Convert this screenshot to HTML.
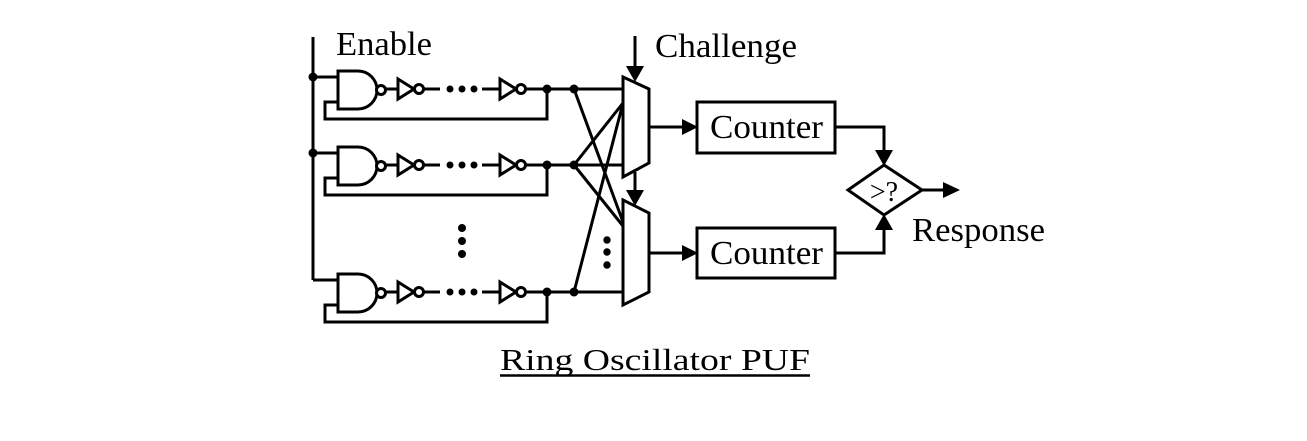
<!DOCTYPE html>
<html><head><meta charset="utf-8"><style>
html,body{margin:0;padding:0;background:#fff;}
svg{display:block;}
text{font-family:"Liberation Serif",serif;fill:#000;}
</style></head><body>
<svg width="1307" height="441" viewBox="0 0 1307 441" xmlns="http://www.w3.org/2000/svg">
<defs>
<g id="row" stroke="#000" stroke-width="3" fill="none">
  <line x1="313" y1="77" x2="338" y2="77"/>
  <path d="M338,71 H358 A19,19 0 0 1 358,109 H338 Z" fill="#fff"/>
  <circle cx="381" cy="90" r="4.5" fill="#fff"/>
  <path d="M338,102 H325 V119 H547 V89"/>
  <line x1="386" y1="89" x2="398" y2="89"/>
  <path d="M398,79 L414,89 L398,99 Z" fill="#fff"/>
  <circle cx="419" cy="89" r="4.5" fill="#fff"/>
  <line x1="424" y1="89" x2="440" y2="89"/>
  <line x1="482" y1="89" x2="500" y2="89"/>
  <path d="M500,79 L516,89 L500,99 Z" fill="#fff"/>
  <circle cx="521" cy="89" r="4.5" fill="#fff"/>
  <line x1="526" y1="89" x2="623" y2="89"/>
  <g fill="#000" stroke="none">
    <circle cx="450" cy="89" r="3.5"/><circle cx="462" cy="89" r="3.5"/><circle cx="474" cy="89" r="3.5"/>
    <circle cx="547" cy="89" r="4.5"/><circle cx="574" cy="89" r="4.5"/>
  </g>
</g>
</defs>
<g stroke="#000" stroke-width="3" fill="none">
  <line x1="574" y1="89" x2="623" y2="222"/>
  <line x1="574" y1="165" x2="623" y2="103"/>
  <line x1="574" y1="165" x2="623" y2="226"/>
  <line x1="574" y1="292" x2="623" y2="103"/>
</g>
<use href="#row"/>
<use href="#row" transform="translate(0,76)"/>
<use href="#row" transform="translate(0,203)"/>
<g stroke="#000" stroke-width="3" fill="none">
  <path d="M313,37 V280"/>
  <path d="M623,77 L649,89 V163 L623,177 Z" fill="#fff"/>
  <path d="M623,200 L649,213 V292 L623,305 Z" fill="#fff"/>
  <line x1="635" y1="36" x2="635" y2="66"/>
  <line x1="635" y1="172" x2="635" y2="192"/>
  <line x1="649" y1="127" x2="685" y2="127"/>
  <line x1="649" y1="253" x2="685" y2="253"/>
  <rect x="697" y="102" width="138" height="51"/>
  <rect x="697" y="228" width="138" height="50"/>
  <path d="M835,127 H884 V152"/>
  <path d="M835,253 H884 V228"/>
  <path d="M884,165 L922,190 L884,215 L848,190 Z"/>
  <line x1="922" y1="190" x2="945" y2="190"/>
</g>
<g fill="#000">
  <circle cx="313" cy="77" r="4.5"/><circle cx="313" cy="153" r="4.5"/>
  <circle cx="462" cy="228" r="4"/><circle cx="462" cy="241" r="4"/><circle cx="462" cy="254" r="4"/>
  <circle cx="607" cy="240" r="3.7"/><circle cx="607" cy="252" r="3.7"/><circle cx="607" cy="265" r="3.7"/>
  <path d="M626,66 L644,66 L635,82 Z"/>
  <path d="M626,190 L644,190 L635,206 Z"/>
  <path d="M682,119 L698,127 L682,135 Z"/>
  <path d="M682,245 L698,253 L682,261 Z"/>
  <path d="M875,150 L893,150 L884,166 Z"/>
  <path d="M875,230 L893,230 L884,214 Z"/>
  <path d="M943,182 L960,190 L943,198 Z"/>
</g>
<text x="336" y="55" font-size="34" textLength="96" lengthAdjust="spacingAndGlyphs">Enable</text>
<text x="655" y="57" font-size="34" textLength="142" lengthAdjust="spacingAndGlyphs">Challenge</text>
<text x="710" y="138" font-size="34" textLength="113" lengthAdjust="spacingAndGlyphs">Counter</text>
<text x="710" y="264" font-size="34" textLength="113" lengthAdjust="spacingAndGlyphs">Counter</text>
<text x="884" y="201" font-size="28" text-anchor="middle">&gt;?</text>
<text x="912" y="241" font-size="34" textLength="133" lengthAdjust="spacingAndGlyphs">Response</text>
<text x="500" y="370" font-size="31" textLength="310" lengthAdjust="spacingAndGlyphs">Ring Oscillator PUF</text>
<line x1="500" y1="375.5" x2="810" y2="375.5" stroke="#000" stroke-width="2.5"/>
</svg>
</body></html>
